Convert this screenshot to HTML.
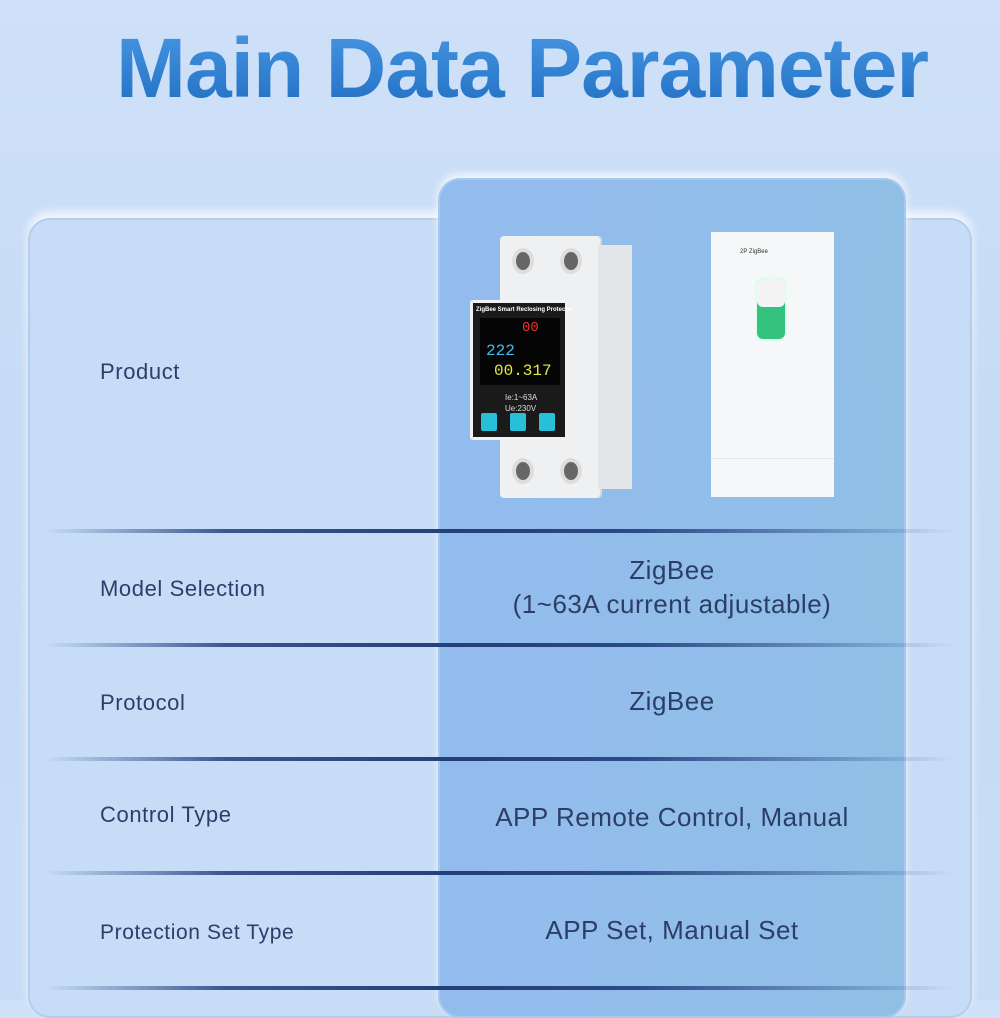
<!DOCTYPE html>
<html><head><meta charset="utf-8"><style>
*{margin:0;padding:0;box-sizing:border-box}
body{width:1000px;height:1000px;overflow:hidden;background:linear-gradient(#cfe1f8,#c6dbf6 40%,#c7dcf6);font-family:"Liberation Sans",sans-serif;position:relative}
.title{position:absolute;left:0;width:1044px;top:20px;text-align:center;font-weight:bold;font-size:84px;letter-spacing:-1px;color:#2f7fd0;background:linear-gradient(#4a9ae6,#1f6cc0);-webkit-background-clip:text;background-clip:text;-webkit-text-fill-color:transparent}
.card{position:absolute;left:28px;top:218px;width:944px;height:800px;border-radius:22px;background:#c7dcf6;border:2px solid #b6cdea;box-shadow:0 -6px 10px rgba(255,255,255,.8)}
.col{position:absolute;left:438px;top:178px;width:468px;height:840px;border-radius:22px;background:linear-gradient(90deg,#93bcee,#90bfe6);border:2px solid #a9c8ef;box-shadow:0 -4px 8px rgba(255,255,255,.8)}
.line{position:absolute;left:45px;width:910px;height:4px;background:linear-gradient(90deg,rgba(40,60,110,0),#3a5590 20%,#233e78 45%,#2c4a86 65%,rgba(40,60,110,0));border-radius:2px}
.lab{position:absolute;left:100px;font-size:22px;letter-spacing:0.6px;color:#2c3e69}
.val{position:absolute;left:438px;width:468px;text-align:center;font-size:26px;letter-spacing:0.5px;color:#2c3e66;line-height:34px}
</style></head><body>
<div class="title">Main Data Parameter</div>
<div class="card"></div>
<div class="col"></div>
<div class="line" style="top:529px"></div>
<div class="line" style="top:643px"></div>
<div class="line" style="top:757px"></div>
<div class="line" style="top:871px"></div>
<div class="line" style="top:986px"></div>

<!-- device -->
<div style="position:absolute;left:500px;top:236px;width:100px;height:262px;background:#eef0f2;border-radius:4px;box-shadow:2px 0 0 #d6d9dd"></div>
<div style="position:absolute;left:598px;top:245px;width:34px;height:244px;background:#e3e6e9"></div>
<div style="position:absolute;left:512px;top:248px;width:22px;height:26px;border-radius:50%;background:#666;border:4px solid #ddd"></div>
<div style="position:absolute;left:560px;top:248px;width:22px;height:26px;border-radius:50%;background:#666;border:4px solid #ddd"></div>
<div style="position:absolute;left:512px;top:458px;width:22px;height:26px;border-radius:50%;background:#666;border:4px solid #ddd"></div>
<div style="position:absolute;left:560px;top:458px;width:22px;height:26px;border-radius:50%;background:#666;border:4px solid #ddd"></div>
<div style="position:absolute;left:470px;top:300px;width:98px;height:140px;background:#1a1a1a;border:3px solid #f0f2f4;border-radius:3px;overflow:hidden"></div>
<div style="position:absolute;left:476px;top:307px;font-size:6px;color:#fff;font-weight:bold;white-space:nowrap">ZigBee Smart Reclosing Protector</div>
<div style="position:absolute;left:480px;top:318px;width:80px;height:67px;background:#050505"></div>
<div style="position:absolute;left:522px;top:320px;font-size:14px;color:#e33;font-family:'Liberation Mono',monospace">00</div>
<div style="position:absolute;left:486px;top:342px;font-size:16px;color:#3bc0ee;font-family:'Liberation Mono',monospace">222</div>
<div style="position:absolute;left:494px;top:362px;font-size:16px;color:#e8e840;font-family:'Liberation Mono',monospace">00.317</div>
<div style="position:absolute;left:505px;top:392px;font-size:8px;color:#ddd;line-height:11px">Ie:1~63A<br>Ue:230V</div>
<div style="position:absolute;left:481px;top:413px;width:16px;height:18px;background:#27c0d8;border-radius:2px"></div>
<div style="position:absolute;left:510px;top:413px;width:16px;height:18px;background:#27c0d8;border-radius:2px"></div>
<div style="position:absolute;left:539px;top:413px;width:16px;height:18px;background:#27c0d8;border-radius:2px"></div>
<!-- phone -->
<div style="position:absolute;left:711px;top:232px;width:123px;height:265px;background:#f6f7f8"></div>
<div style="position:absolute;left:740px;top:249px;font-size:6px;color:#333">2P ZigBee</div>
<div style="position:absolute;left:755px;top:277px;width:32px;height:64px;background:#35c27e;border-radius:8px;border:2px solid #dfe"></div>
<div style="position:absolute;left:757px;top:279px;width:28px;height:28px;background:#f4f4f4;border-radius:6px"></div>
<div style="position:absolute;left:711px;top:458px;width:123px;height:1px;background:#e5e5e5"></div>

<div class="lab" style="top:359px">Product</div>
<div class="lab" style="top:576px">Model Selection</div>
<div class="val" style="top:553px">ZigBee<br>(1~63A current adjustable)</div>
<div class="lab" style="top:690px">Protocol</div>
<div class="val" style="top:684px">ZigBee</div>
<div class="lab" style="top:802px">Control Type</div>
<div class="val" style="top:800px">APP Remote Control, Manual</div>
<div class="lab" style="top:921px;font-size:21px">Protection Set Type</div>
<div class="val" style="top:913px">APP Set, Manual Set</div>
</body></html>
